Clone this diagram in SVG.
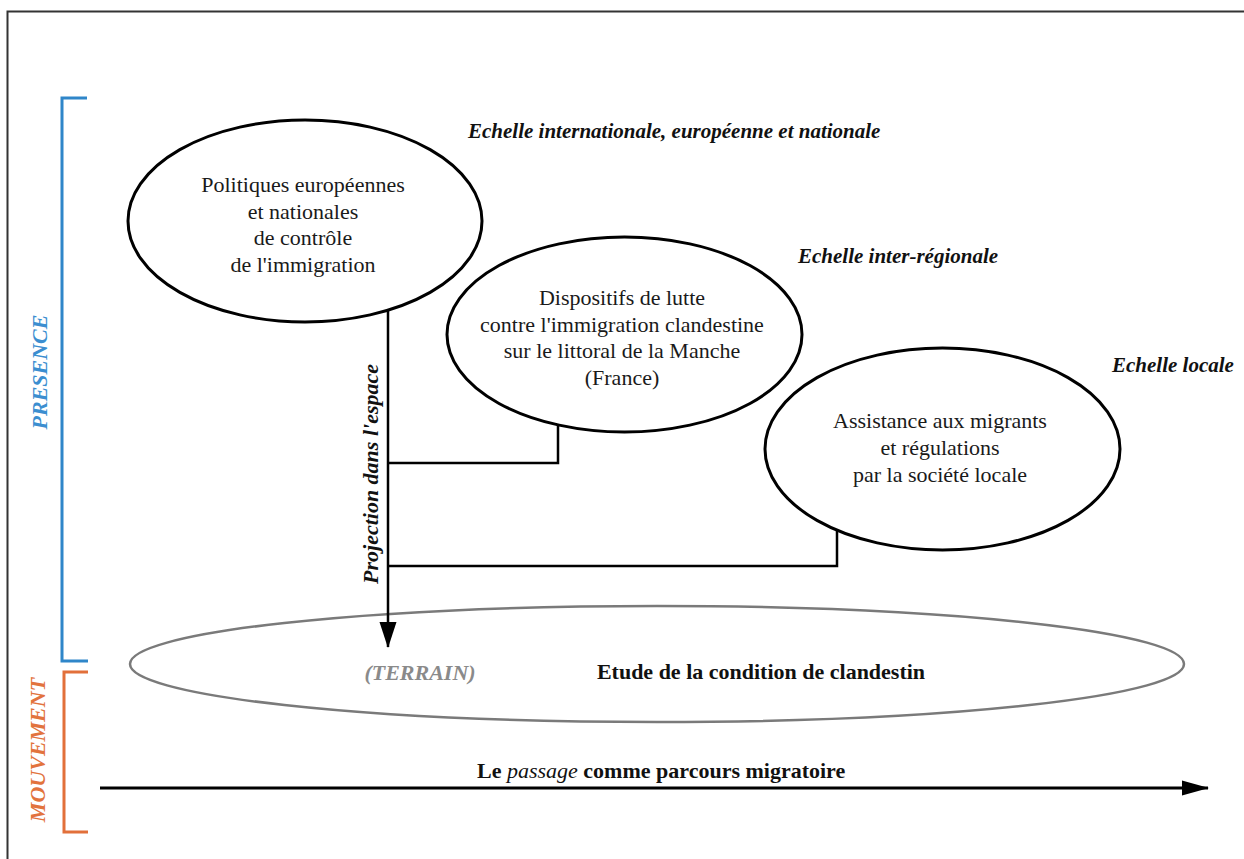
<svg xmlns="http://www.w3.org/2000/svg" width="1244" height="859" viewBox="0 0 1244 859">
  <style>
    .node { fill: #ffffff; stroke: #000000; stroke-width: 3; }
    .terrain { fill: none; stroke: #7a7a7a; stroke-width: 2.5; }
    .ntext { font-family: "Liberation Serif", "Times New Roman", serif; font-size: 22px; fill: #1a1a1a; text-anchor: middle; }
    .scale { font-family: "Liberation Serif", "Times New Roman", serif; font-size: 21px; font-weight: bold; font-style: italic; fill: #111111; }
    .conn { fill: none; stroke: #000000; stroke-width: 2.5; }
    .side { font-family: "Liberation Serif", "Times New Roman", serif; font-size: 22px; font-weight: bold; font-style: italic; text-anchor: middle; }
    .bold { font-family: "Liberation Serif", "Times New Roman", serif; font-size: 22px; font-weight: bold; fill: #111111; }
  </style>
  <defs>
    <marker id="arrowV" markerUnits="userSpaceOnUse" markerWidth="26" markerHeight="18" viewBox="0 0 26 18" refX="25" refY="9" orient="auto">
      <polygon points="0,0.5 26,9 0,17.5" fill="#000000"/>
    </marker>
    <marker id="arrowH" markerUnits="userSpaceOnUse" markerWidth="27" markerHeight="16" viewBox="0 0 27 16" refX="26" refY="8" orient="auto">
      <polygon points="0,0.5 27,8 0,15.5" fill="#000000"/>
    </marker>
  </defs>

  <rect width="1244" height="859" fill="#ffffff"/>

  <!-- frame (top and left edges) -->
  <g id="frame">
    <path d="M7.5,859 V11.5 H1244" fill="none" stroke="#333333" stroke-width="2"/>
  </g>

  <!-- side brackets -->
  <g id="presence">
    <path d="M87,98 H62 V661 H88" fill="none" stroke="#2f86c9" stroke-width="3"/>
    <text class="side" fill="#3b8ed0" transform="translate(47,372) rotate(-90)">PRESENCE</text>
  </g>
  <g id="mouvement">
    <path d="M88,672 H64 V832 H88" fill="none" stroke="#e2703a" stroke-width="3"/>
    <text class="side" fill="#e2733d" transform="translate(45,750) rotate(-90)">MOUVEMENT</text>
  </g>

  <!-- terrain ellipse -->
  <g id="terrain">
    <ellipse class="terrain" cx="657" cy="664" rx="527" ry="58"/>
    <text x="420" y="680" text-anchor="middle" font-family="Liberation Serif, Times New Roman, serif" font-size="22" font-weight="bold" font-style="italic" fill="#8a8a8a">(TERRAIN)</text>
    <text class="bold" x="761" y="679" text-anchor="middle">Etude de la condition de clandestin</text>
  </g>

  <!-- connectors -->
  <g id="connectors">
    <path class="conn" d="M388,310 V647" marker-end="url(#arrowV)"/>
    <path class="conn" d="M388,463 H558 V425"/>
    <path class="conn" d="M388,566 H837 V530"/>
    <path d="M100,788 H1208" fill="none" stroke="#000000" stroke-width="3" marker-end="url(#arrowH)"/>
  </g>

  <text class="side" fill="#111111" transform="translate(378,474) rotate(-90)">Projection dans l'espace</text>

  <!-- nodes -->
  <g id="node-politiques">
    <ellipse class="node" cx="305" cy="221" rx="177" ry="101"/>
    <text class="ntext" x="303" y="192">Politiques européennes</text>
    <text class="ntext" x="303" y="218.5">et nationales</text>
    <text class="ntext" x="303" y="245">de contrôle</text>
    <text class="ntext" x="303" y="271.5">de l'immigration</text>
  </g>
  <g id="node-dispositifs">
    <ellipse class="node" cx="624.5" cy="334.5" rx="177.5" ry="97.5"/>
    <text class="ntext" x="622" y="305">Dispositifs de lutte</text>
    <text class="ntext" x="622" y="331.5">contre l'immigration clandestine</text>
    <text class="ntext" x="622" y="358">sur le littoral de la Manche</text>
    <text class="ntext" x="622" y="384.5">(France)</text>
  </g>
  <g id="node-assistance">
    <ellipse class="node" cx="942.5" cy="449" rx="177.5" ry="101"/>
    <text class="ntext" x="940" y="428">Assistance aux migrants</text>
    <text class="ntext" x="940" y="455">et régulations</text>
    <text class="ntext" x="940" y="482">par la société locale</text>
  </g>

  <!-- scale labels -->
  <g id="scales">
    <text class="scale" x="468" y="138">Echelle internationale, européenne et nationale</text>
    <text class="scale" x="798" y="263">Echelle inter-régionale</text>
    <text class="scale" x="1112" y="372">Echelle locale</text>
  </g>

  <g id="passage">
    <text class="bold" x="477" y="778" font-size="22.6">Le <tspan font-style="italic" font-weight="normal">passage</tspan> comme parcours migratoire</text>
  </g>
</svg>
